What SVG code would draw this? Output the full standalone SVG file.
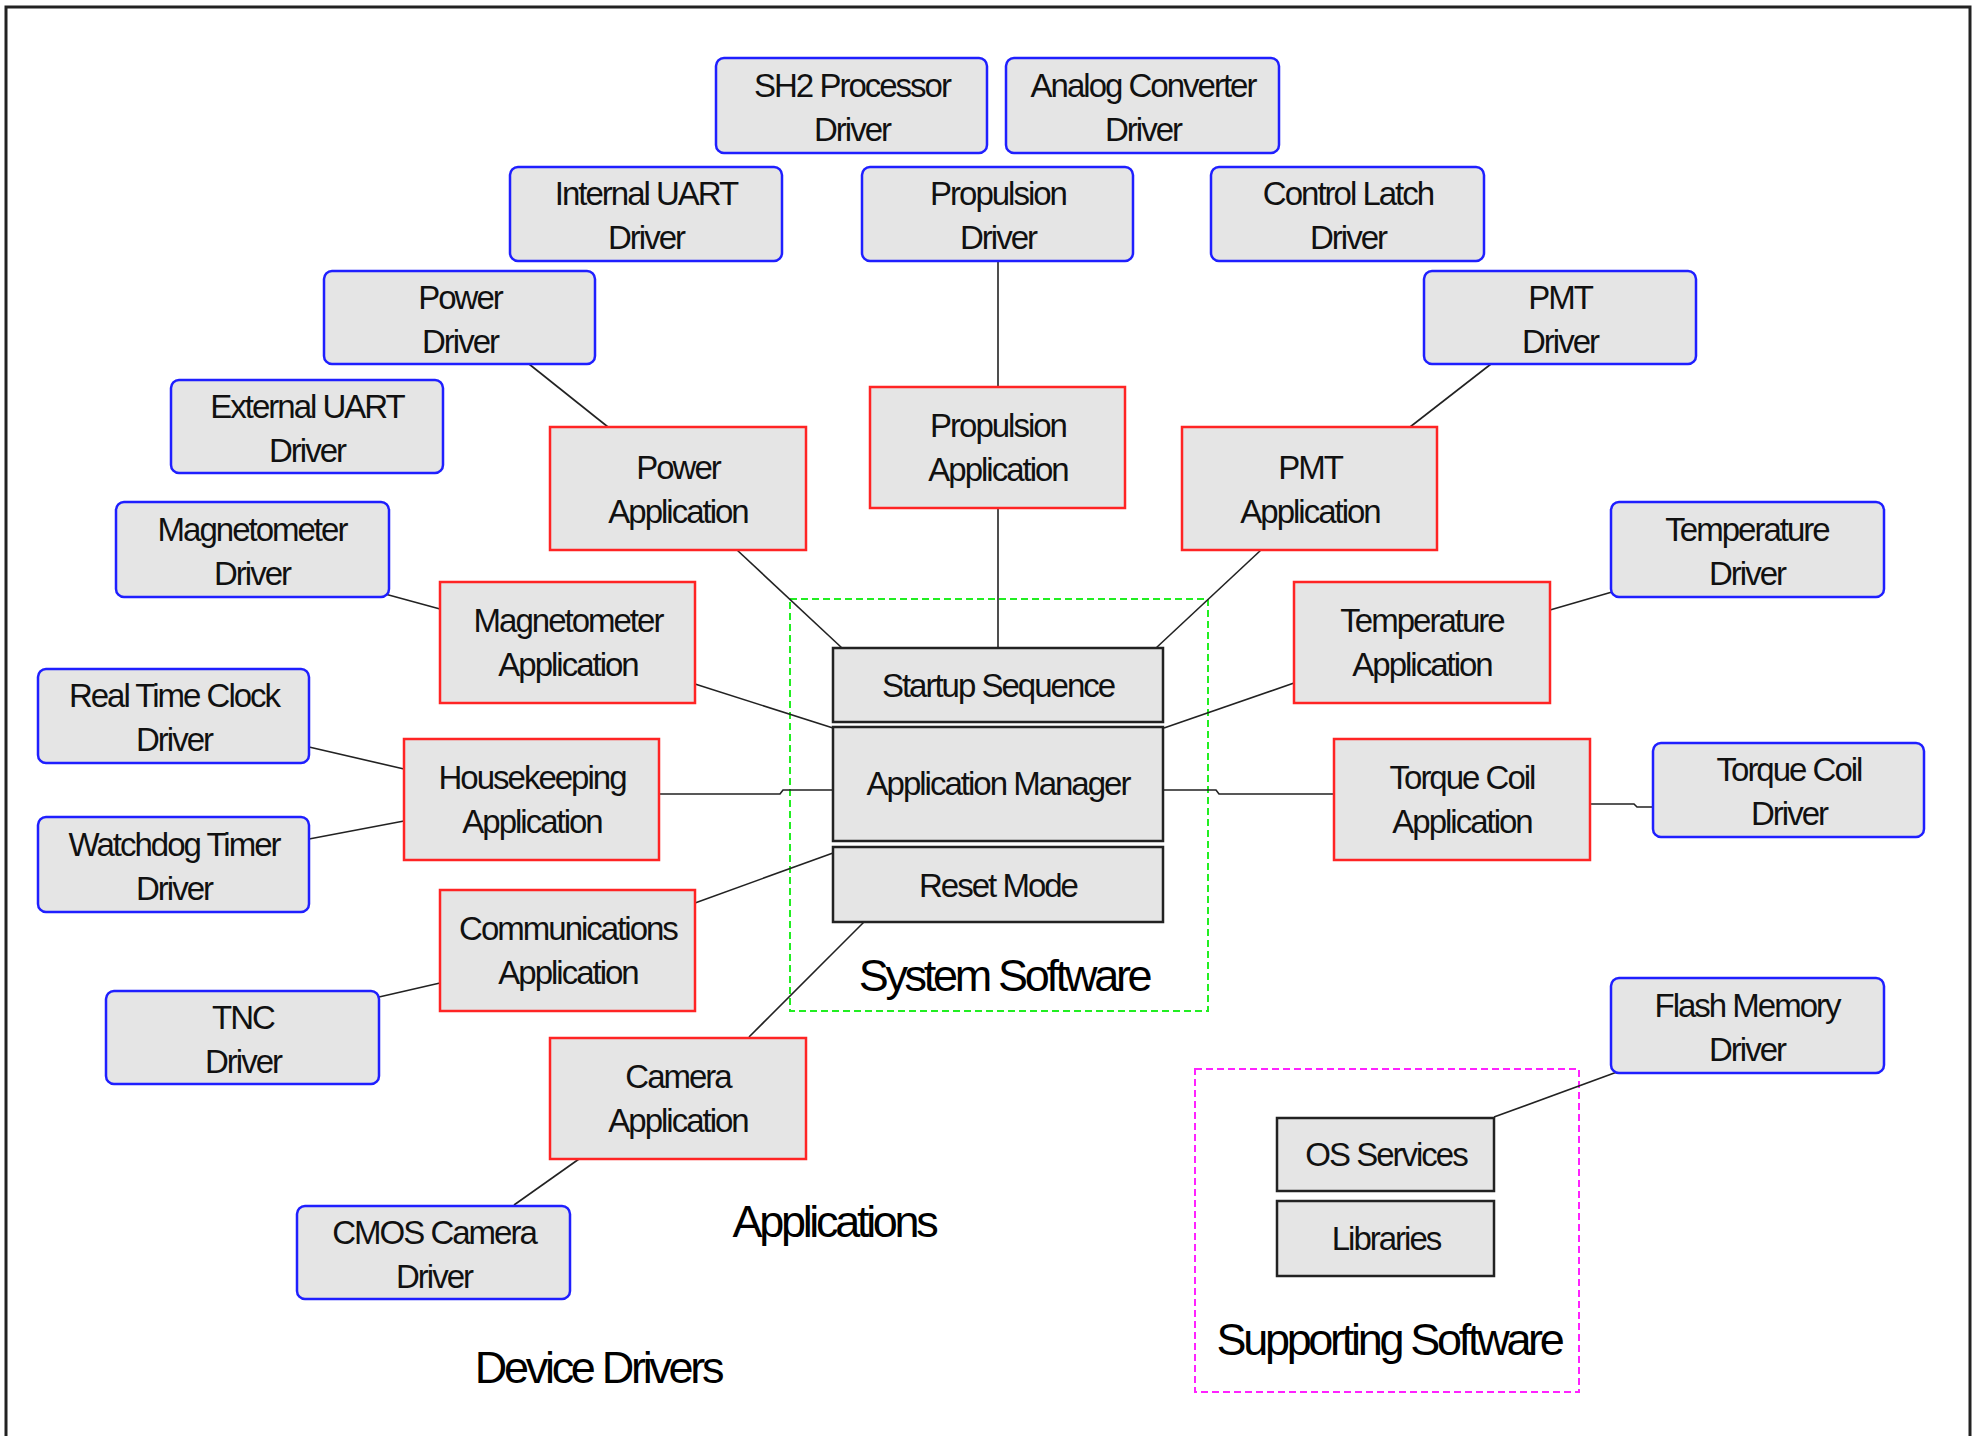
<svg xmlns="http://www.w3.org/2000/svg" width="1984" height="1436" viewBox="0 0 1984 1436">
<style>
.drv{fill:#e5e5e5;stroke:#1f1fff;stroke-width:2.5}
.app{fill:#e5e5e5;stroke:#ff2424;stroke-width:2.5}
.sys{fill:#e5e5e5;stroke:#222;stroke-width:2.5}
.t{font-family:"Liberation Sans",Arial,sans-serif;font-size:33px;letter-spacing:-2px;fill:#111;text-anchor:middle}
.big{font-family:"Liberation Sans",Arial,sans-serif;font-size:45px;letter-spacing:-3.3px;fill:#000;text-anchor:middle}
.c{fill:none;stroke:#222;stroke-width:1.6}
</style>
<rect width="1984" height="1436" fill="#fff"/>
<path d="M6,1436 V7 H1970 V1436" fill="none" stroke="#222" stroke-width="3"/>

<g id="groups">
<rect id="system-software-group" x="790" y="599" width="418" height="412" fill="none" stroke="#22ee22" stroke-width="2" stroke-dasharray="7,4"/>
<rect id="supporting-software-group" x="1195" y="1069" width="384" height="323" fill="none" stroke="#ff22ff" stroke-width="2" stroke-dasharray="7,4"/>
</g>

<g id="connectors">
<line class="c" x1="998" y1="261" x2="998" y2="387"/>
<line class="c" x1="998" y1="508" x2="998" y2="648"/>
<line class="c" x1="529" y1="364" x2="608" y2="427"/>
<line class="c" x1="737" y1="550" x2="842" y2="648"/>
<line class="c" x1="1491" y1="364" x2="1410" y2="427"/>
<line class="c" x1="1261" y1="550" x2="1156" y2="648"/>
<line class="c" x1="385" y1="594" x2="440" y2="609"/>
<line class="c" x1="695" y1="684" x2="833" y2="728"/>
<line class="c" x1="1294" y1="683" x2="1164" y2="728"/>
<line class="c" x1="1550" y1="610" x2="1612" y2="592"/>
<line class="c" x1="309" y1="747" x2="404" y2="769"/>
<line class="c" x1="309" y1="839" x2="404" y2="821"/>
<polyline class="c" points="659,794 780,794 783,790 833,790"/>
<polyline class="c" points="1163,790 1216,790 1219,794 1334,794"/>
<polyline class="c" points="1590,804 1634,804 1637,807 1653,807"/>
<line class="c" x1="695" y1="903" x2="833" y2="853"/>
<line class="c" x1="440" y1="983" x2="379" y2="997"/>
<line class="c" x1="864" y1="922" x2="749" y2="1037"/>
<line class="c" x1="579" y1="1159" x2="514" y2="1205"/>
<line class="c" x1="1494" y1="1117" x2="1617" y2="1072"/>
</g>

<g id="sh2-processor-driver"><rect class="drv" x="716" y="58" width="271" height="95" rx="8"/><text class="t" x="852" y="97">SH2 Processor</text><text class="t" x="852" y="141">Driver</text></g>
<g id="analog-converter-driver"><rect class="drv" x="1006" y="58" width="273" height="95" rx="8"/><text class="t" x="1143" y="97">Analog Converter</text><text class="t" x="1143" y="141">Driver</text></g>
<g id="internal-uart-driver"><rect class="drv" x="510" y="167" width="272" height="94" rx="8"/><text class="t" x="646" y="205">Internal UART</text><text class="t" x="646" y="249">Driver</text></g>
<g id="propulsion-driver"><rect class="drv" x="862" y="167" width="271" height="94" rx="8"/><text class="t" x="998" y="205">Propulsion</text><text class="t" x="998" y="249">Driver</text></g>
<g id="control-latch-driver"><rect class="drv" x="1211" y="167" width="273" height="94" rx="8"/><text class="t" x="1348" y="205">Control Latch</text><text class="t" x="1348" y="249">Driver</text></g>
<g id="power-driver"><rect class="drv" x="324" y="271" width="271" height="93" rx="8"/><text class="t" x="460" y="309">Power</text><text class="t" x="460" y="353">Driver</text></g>
<g id="pmt-driver"><rect class="drv" x="1424" y="271" width="272" height="93" rx="8"/><text class="t" x="1560" y="309">PMT</text><text class="t" x="1560" y="353">Driver</text></g>
<g id="external-uart-driver"><rect class="drv" x="171" y="380" width="272" height="93" rx="8"/><text class="t" x="307" y="418">External UART</text><text class="t" x="307" y="462">Driver</text></g>
<g id="magnetometer-driver"><rect class="drv" x="116" y="502" width="273" height="95" rx="8"/><text class="t" x="252" y="541">Magnetometer</text><text class="t" x="252" y="585">Driver</text></g>
<g id="temperature-driver"><rect class="drv" x="1611" y="502" width="273" height="95" rx="8"/><text class="t" x="1747" y="541">Temperature</text><text class="t" x="1747" y="585">Driver</text></g>
<g id="real-time-clock-driver"><rect class="drv" x="38" y="669" width="271" height="94" rx="8"/><text class="t" x="174" y="707">Real Time Clock</text><text class="t" x="174" y="751">Driver</text></g>
<g id="watchdog-timer-driver"><rect class="drv" x="38" y="817" width="271" height="95" rx="8"/><text class="t" x="174" y="856">Watchdog Timer</text><text class="t" x="174" y="900">Driver</text></g>
<g id="torque-coil-driver"><rect class="drv" x="1653" y="743" width="271" height="94" rx="8"/><text class="t" x="1789" y="781">Torque Coil</text><text class="t" x="1789" y="825">Driver</text></g>
<g id="tnc-driver"><rect class="drv" x="106" y="991" width="273" height="93" rx="8"/><text class="t" x="243" y="1029">TNC</text><text class="t" x="243" y="1073">Driver</text></g>
<g id="cmos-camera-driver"><rect class="drv" x="297" y="1206" width="273" height="93" rx="8"/><text class="t" x="434" y="1244">CMOS Camera</text><text class="t" x="434" y="1288">Driver</text></g>
<g id="flash-memory-driver"><rect class="drv" x="1611" y="978" width="273" height="95" rx="8"/><text class="t" x="1747" y="1017">Flash Memory</text><text class="t" x="1747" y="1061">Driver</text></g>

<g id="power-application"><rect class="app" x="550" y="427" width="256" height="123"/><text class="t" x="678" y="479">Power</text><text class="t" x="678" y="523">Application</text></g>
<g id="propulsion-application"><rect class="app" x="870" y="387" width="255" height="121"/><text class="t" x="998" y="437">Propulsion</text><text class="t" x="998" y="481">Application</text></g>
<g id="pmt-application"><rect class="app" x="1182" y="427" width="255" height="123"/><text class="t" x="1310" y="479">PMT</text><text class="t" x="1310" y="523">Application</text></g>
<g id="magnetometer-application"><rect class="app" x="440" y="582" width="255" height="121"/><text class="t" x="568" y="632">Magnetometer</text><text class="t" x="568" y="676">Application</text></g>
<g id="temperature-application"><rect class="app" x="1294" y="582" width="256" height="121"/><text class="t" x="1422" y="632">Temperature</text><text class="t" x="1422" y="676">Application</text></g>
<g id="housekeeping-application"><rect class="app" x="404" y="739" width="255" height="121"/><text class="t" x="532" y="789">Housekeeping</text><text class="t" x="532" y="833">Application</text></g>
<g id="torque-coil-application"><rect class="app" x="1334" y="739" width="256" height="121"/><text class="t" x="1462" y="789">Torque Coil</text><text class="t" x="1462" y="833">Application</text></g>
<g id="communications-application"><rect class="app" x="440" y="890" width="255" height="121"/><text class="t" x="568" y="940">Communications</text><text class="t" x="568" y="984">Application</text></g>
<g id="camera-application"><rect class="app" x="550" y="1038" width="256" height="121"/><text class="t" x="678" y="1088">Camera</text><text class="t" x="678" y="1132">Application</text></g>

<g id="startup-sequence"><rect class="sys" x="833" y="648" width="330" height="74"/><text class="t" x="998" y="697">Startup Sequence</text></g>
<g id="application-manager"><rect class="sys" x="833" y="727" width="330" height="114"/><text class="t" x="998" y="795">Application Manager</text></g>
<g id="reset-mode"><rect class="sys" x="833" y="847" width="330" height="75"/><text class="t" x="998" y="897">Reset Mode</text></g>
<g id="os-services"><rect class="sys" x="1277" y="1118" width="217" height="73"/><text class="t" x="1386" y="1166">OS Services</text></g>
<g id="libraries"><rect class="sys" x="1277" y="1201" width="217" height="75"/><text class="t" x="1386" y="1250">Libraries</text></g>

<g id="labels">
<text class="big" x="1004" y="991">System Software</text>
<text class="big" x="834" y="1237">Applications</text>
<text class="big" x="598" y="1383">Device Drivers</text>
<text class="big" x="1389" y="1355">Supporting Software</text>
</g>
</svg>
